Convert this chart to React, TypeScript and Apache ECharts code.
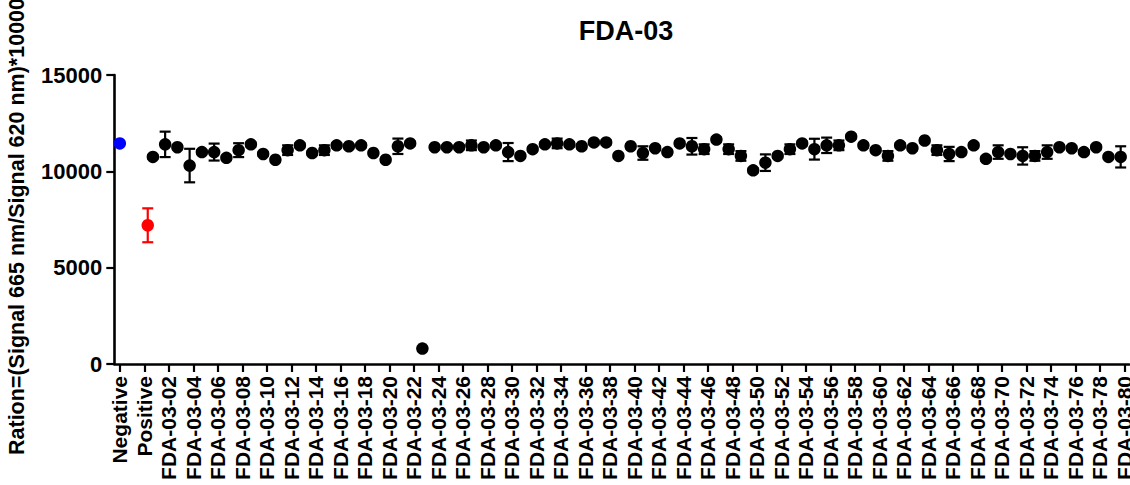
import React, { useEffect, useRef } from "react";
import * as echarts from "echarts";

// ---------- data ----------
const controlCategories = ["Negative", "Positive"];
const fdaCategories: string[] = Array.from(
  { length: 80 },
  (_, i) => `FDA-03-${String(i + 1).padStart(2, "0")}`
);

const negativeMean = [11450];
const negativeErr = [0];
const positiveMean = [7200];
const positiveErr = [880];

const fdaMeans = [
  10750, 11400, 11250, 10300, 11000, 11000, 10700, 11100, 11400, 10900,
  10600, 11100, 11350, 10950, 11100, 11350, 11300, 11350, 10950, 10600,
  11300, 11450, 800, 11250, 11250, 11250, 11350, 11250, 11350, 11000,
  10800, 11150, 11400, 11450, 11400, 11300, 11500, 11500, 10800, 11300,
  10950, 11200, 11000, 11450, 11300, 11150, 11650, 11150, 10800, 10050,
  10450, 10800, 11150, 11450, 11150, 11350, 11350, 11800, 11350, 11100,
  10800, 11350, 11200, 11600, 11100, 10900, 11000, 11350, 10650, 11000,
  10900, 10800, 10800, 11000, 11250, 11200, 11000, 11250, 10750, 10750,
];

const fdaErrs = [
  100, 660, 100, 870, 100, 440, 100, 360, 100, 100,
  100, 250, 100, 100, 250, 100, 100, 100, 100, 100,
  400, 100, 0, 100, 100, 100, 250, 100, 100, 470,
  100, 100, 100, 250, 100, 100, 100, 100, 100, 100,
  350, 100, 100, 100, 430, 250, 100, 250, 250, 100,
  430, 100, 250, 100, 540, 400, 250, 100, 100, 100,
  250, 100, 100, 100, 250, 370, 100, 100, 100, 350,
  100, 450, 250, 350, 100, 100, 100, 100, 100, 550,
];

// tick labels: controls, then every second FDA sample
const tickLabels = [
  ...controlCategories,
  ...fdaCategories.filter((_, i) => i % 2 === 1),
];

const yTitle = "Ration=(Signal 665 nm/Signal 620 nm)*10000";
const chartTitle = "FDA-03";

// ---------- layout constants ----------
const FONT = "'Liberation Sans', Arial, Helvetica, sans-serif";
const FDA_SHIFT = -0.3;
const POS_SHIFT = 0.28;

export default function App() {
  const ref = useRef<HTMLDivElement>(null);

  useEffect(() => {
    if (!ref.current) return;
    const chart = echarts.init(ref.current, undefined, { renderer: "svg" });

    // x position of each tick label: Negative=-2, Positive=0, FDA-03-k = k
    const tickValues = tickLabels.map((_, i) => -2 + 2 * i);
    const labelFor = (v: number) => {
      const idx = Math.round((v + 2) / 2);
      return tickLabels[idx] ?? "";
    };

    const negData = negativeMean.map((m, i) => [-2, m, negativeErr[i]]);
    const posData = positiveMean.map((m, i) => [0 + POS_SHIFT, m, positiveErr[i]]);
    const fdaData = fdaMeans.map((m, i) => [i + 1 + FDA_SHIFT, m, fdaErrs[i]]);

    const errorSeries = (data: number[][], color: string) => ({
      type: "custom",
      z: 2,
      data,
      encode: { x: 0, y: 1 },
      renderItem: (params: any, api: any) => {
        const x = api.value(0);
        const y = api.value(1);
        const e = api.value(2);
        if (!e) return { type: "group", children: [] };
        const top = api.coord([x, y + e]);
        const bot = api.coord([x, y - e]);
        const hw = 5.5;
        const style = { stroke: color, lineWidth: 2.2 };
        return {
          type: "group",
          children: [
            { type: "line", shape: { x1: top[0], y1: top[1], x2: bot[0], y2: bot[1] }, style },
            { type: "line", shape: { x1: top[0] - hw, y1: top[1], x2: top[0] + hw, y2: top[1] }, style },
            { type: "line", shape: { x1: bot[0] - hw, y1: bot[1], x2: bot[0] + hw, y2: bot[1] }, style },
          ],
        };
      },
    });

    const pointSeries = (data: number[][], color: string) => ({
      type: "scatter",
      z: 3,
      data: data.map((d) => [d[0], d[1]]),
      symbol: "circle",
      symbolSize: 12.5,
      itemStyle: { color, opacity: 1 },
      emphasis: { disabled: true },
    });

    chart.setOption({
      animation: false,
      backgroundColor: "#fff",
      textStyle: { fontFamily: FONT },
      title: {
        text: chartTitle,
        left: 621,
        textAlign: "center",
        top: 12,
        textStyle: { fontFamily: FONT, fontSize: 27, fontWeight: "bold", color: "#000" },
      },
      grid: {
        left: 114.3,
        right: 1,
        top: 75,
        bottom: 121,
        containLabel: false,
        outerBoundsMode: "none",
      },
      xAxis: {
        type: "value",
        min: -2.45,
        max: 80.38,
        splitLine: { show: false },
        axisLine: { show: true, onZero: false, lineStyle: { color: "#000", width: 2.6 } },
        axisTick: {
          show: true,
          length: 8,
          customValues: tickValues,
          lineStyle: { color: "#000", width: 2.2 },
        },
        axisLabel: {
          show: true,
          customValues: tickValues,
          rotate: 90,
          margin: 12,
          padding: [0, 0, 6, 0],
          formatter: (v: number) => labelFor(v),
          fontFamily: FONT,
          fontSize: 21,
          fontWeight: "bold",
          color: "#000",
        },
      },
      yAxis: {
        type: "value",
        min: 0,
        max: 15000,
        interval: 5000,
        splitLine: { show: false },
        axisLine: { show: true, onZero: false, lineStyle: { color: "#000", width: 2.6 } },
        axisTick: { show: true, length: 8, lineStyle: { color: "#000", width: 2.2 } },
        axisLabel: {
          margin: 12,
          formatter: (v: number) => String(v),
          fontFamily: FONT,
          fontSize: 22,
          fontWeight: "bold",
          color: "#000",
        },
        name: yTitle,
        nameLocation: "middle",
        nameGap: 86,
        nameTextStyle: {
          fontFamily: FONT,
          fontSize: 21.5,
          fontWeight: "bold",
          color: "#000",
          padding: [0, 14, 0, 0],
        },
      },
      series: [
        errorSeries(fdaData, "#000"),
        errorSeries(negData, "#0000ff"),
        errorSeries(posData, "#ff0000"),
        pointSeries(fdaData, "#000"),
        pointSeries(negData, "#0000ff"),
        pointSeries(posData, "#ff0000"),
      ],
    });

    return () => chart.dispose();
  }, []);

  return (
    <div
      ref={ref}
      style={{ position: "fixed", left: 0, top: 0, width: 1130, height: 485, background: "#fff" }}
    />
  );
}
